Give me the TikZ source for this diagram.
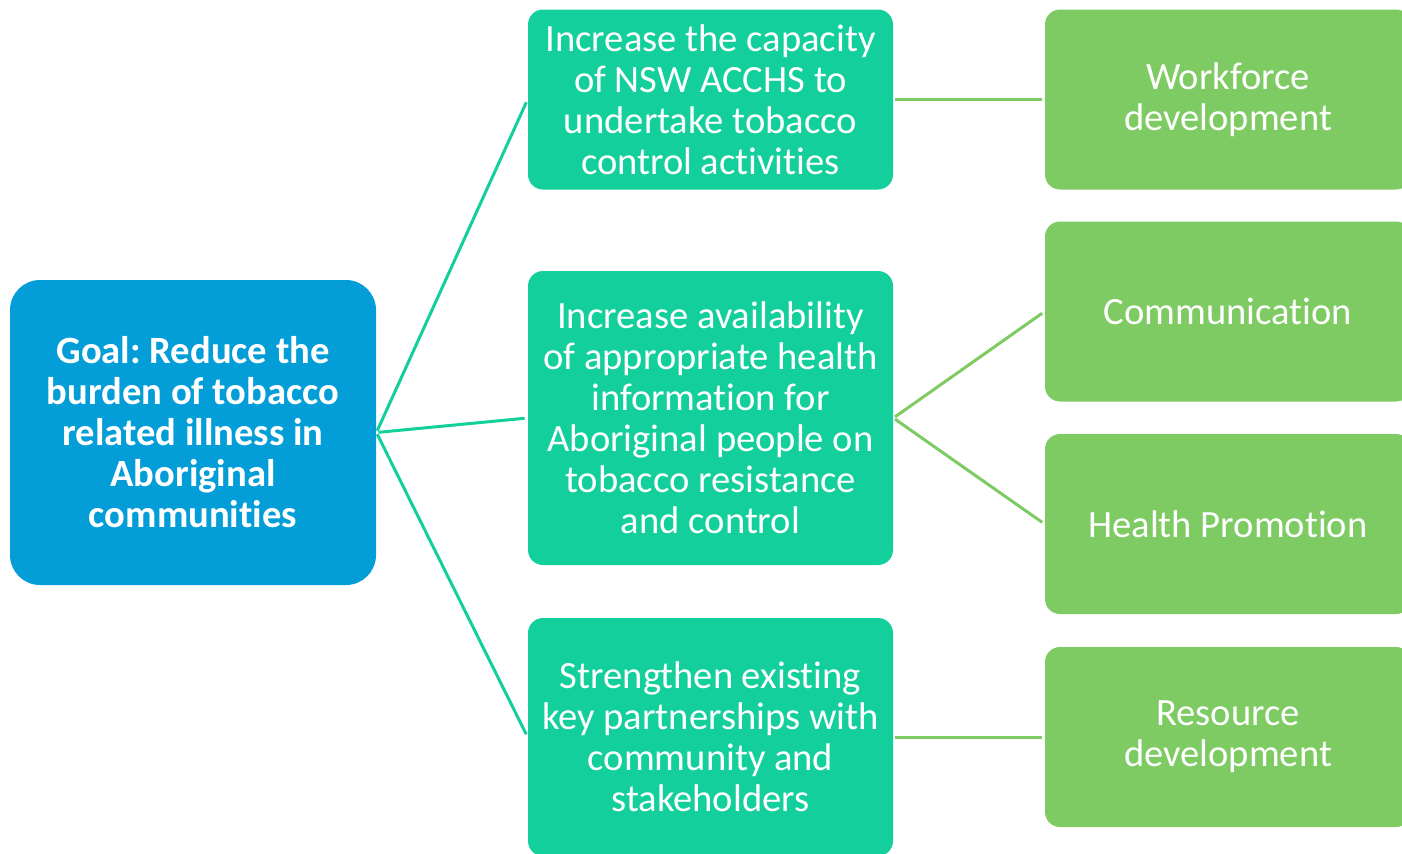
\documentclass[tikz,border=0pt]{standalone}
\usepackage{fontspec}
\setmainfont{Carlito}[Ligatures=NoCommon]
\usepackage{xcolor}
\definecolor{goalblue}{HTML}{039ED8}
\definecolor{aimteal}{HTML}{13CF9B}
\definecolor{areagreen}{HTML}{7DCB62}
\usetikzlibrary{positioning}
\frenchspacing

\begin{document}
\begin{tikzpicture}[x=0.5pt,y=-0.5pt,
  box/.style={rectangle,rounded corners=7.5pt,align=center,text=white,inner sep=0pt,font=\fontsize{19.3}{20.5}\selectfont},
  goal/.style={box,fill=goalblue,rounded corners=15pt,minimum width=183pt,minimum height=152.5pt,font=\fontsize{19.3}{20.5}\selectfont\bfseries},
  aim/.style={box,fill=aimteal,minimum width=182.5pt},
  area/.style={box,fill=areagreen,minimum width=183pt,minimum height=90pt},
  lnk/.style={line width=1.5pt,shorten <=1pt,shorten >=1.5pt}]
\useasboundingbox (0,0) rectangle (1402,853);
\clip (0,0) rectangle (1402,853);
\node[goal] (g) at (193,432.5) {Goal: Reduce the\\burden of tobacco\\related illness in\\Aboriginal\\communities};
\node[aim,minimum height=90pt] (a1) at (710.5,99.5) {Increase the capacity\\of NSW ACCHS to\\undertake tobacco\\control activities};
\node[aim,minimum height=147pt] (a2) at (710.5,418) {Increase availability\\of appropriate health\\information for\\Aboriginal people on\\tobacco resistance\\and control};
\node[aim,minimum height=119pt] (a3) at (710.5,737) {Strengthen existing\\key partnerships with\\community and\\stakeholders};
\node[area] (w) at (1228,99.5) {Workforce\\development};
\node[area] (c) at (1228,311.5) {Communication};
\node[area] (h) at (1228,524) {Health Promotion};
\node[area] (r) at (1228,737) {Resource\\development};
\draw[lnk,aimteal] (g.east)--(a1.west); \draw[lnk,aimteal] (g.east)--(a2.west); \draw[lnk,aimteal] (g.east)--(a3.west);
\draw[lnk,areagreen] (a1.east)--(w.west); \draw[lnk,areagreen] (a2.east)--(c.west);
\draw[lnk,areagreen] (a2.east)--(h.west); \draw[lnk,areagreen] (a3.east)--(r.west);
\end{tikzpicture}
\end{document}
